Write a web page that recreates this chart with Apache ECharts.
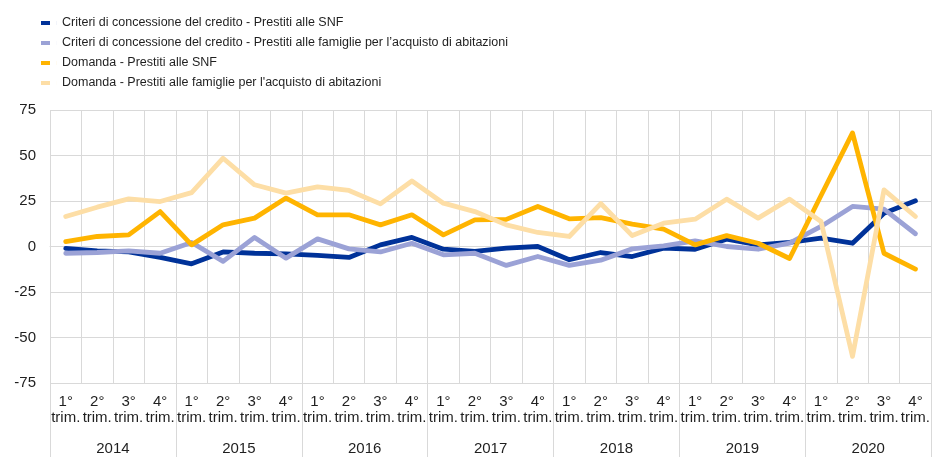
<!DOCTYPE html>
<html>
<head>
<meta charset="utf-8">
<script src="https://cdn.jsdelivr.net/npm/echarts@6/dist/echarts.min.js"></script>
<style>
  html, body { margin: 0; padding: 0; background: #fff; }
  #chart { width: 933px; height: 467px; }
</style>
</head>
<body>
<div id="chart"></div>
<script>
// quarters 2014Q1 .. 2020Q4
var years = ['2014', '2015', '2016', '2017', '2018', '2019', '2020']
var quarterLabels = ['1°\ntrim.', '2°\ntrim.', '3°\ntrim.', '4°\ntrim.']
var yTicks = { min: -75, max: 75, step: 25 }

var criteriSNF = [
  -1, -2.4, -3, -6, -9.5, -3, -3.7, -4,
  -4.9, -6, 0.9, 5, -1.5, -2.7, -0.9, 0,
  -7.3, -3.3, -5.5, -0.9, -1.5, 4, 0.9, 2.2,
  4.6, 1.8, 18.3, 25.1
]
var criteriFamiglie = [
  -3.7, -3.3, -2.4, -3.7, 2.2, -8.2, 5, -6.4,
  4.2, -1.3, -3, 1.8, -4.6, -3.7, -10.4, -5.5,
  -10.4, -7.5, -1.3, 0.4, 3.1, 0, -1.5, 1.8,
  11, 22, 20.5, 7
]
var domandaSNF = [
  2.7, 5.5, 6.4, 19.2, 0.9, 11.9, 15.6, 26.6,
  17.4, 17.4, 11.9, 17.4, 6.4, 14.6, 14.9, 22,
  15.2, 15.9, 12.3, 9.5, 0.9, 6, 1.8, -6.6,
  28, 62.4, -3.7, -12.4
]
var domandaFamiglie = [
  16.5, 21.6, 26.2, 24.7, 29.6, 48.5, 33.9, 29.3,
  32.8, 30.8, 23.4, 36, 23.8, 19.2, 11.9, 7.7,
  5.5, 23.6, 6, 12.8, 15, 26, 15.6, 26,
  13.7, -60.4, 31.1, 16.5
]

var categories = []
years.forEach(function () {
  quarterLabels.forEach(function (q) { categories.push(q) })
})

var gridColor = '#d9d9d9'
var textColor = '#1f1f1f'

function lineSeries(name, data, color) {
  return {
    name: name,
    type: 'line',
    data: data,
    symbol: 'none',
    lineStyle: { width: 4.8, color: color, cap: 'round', join: 'round' },
    itemStyle: { color: color }
  }
}

var chart = echarts.init(document.getElementById('chart'))
chart.setOption({
  animation: false,
  textStyle: { fontFamily: 'Liberation Sans, Arial, sans-serif' },
  legend: {
    orient: 'vertical',
    left: 36,
    top: 10,
    // short bar plus an invisible sliver to widen the gap before the text
    icon: 'path://M0,0H9V4H0ZM15.95,0H16V4H15.95Z',
    itemWidth: 16,
    itemHeight: 4,
    itemGap: 4,
    textStyle: { fontSize: 12.5, color: textColor, lineHeight: 16 }
  },
  grid: { left: 50, right: 0, top: 110, bottom: 84 },
  xAxis: [
    {
      type: 'category',
      data: categories,
      boundaryGap: true,
      axisLine: { show: true, lineStyle: { color: gridColor } },
      axisTick: { show: false },
      splitLine: { show: true, lineStyle: { color: gridColor, width: 1 } },
      axisLabel: {
        interval: 0,
        hideOverlap: false,
        margin: 11,
        fontSize: 15,
        lineHeight: 16,
        color: textColor
      }
    },
    {
      type: 'category',
      data: years,
      position: 'bottom',
      boundaryGap: true,
      axisLine: { show: false },
      axisTick: { show: true, length: 74, lineStyle: { color: gridColor } },
      splitLine: { show: false },
      axisLabel: { margin: 58, fontSize: 15, color: textColor }
    }
  ],
  yAxis: {
    type: 'value',
    min: yTicks.min,
    max: yTicks.max,
    interval: yTicks.step,
    axisLine: { show: false },
    axisTick: { show: false },
    splitLine: { show: true, lineStyle: { color: gridColor, width: 1 } },
    axisLabel: { fontSize: 15, margin: 14, color: textColor }
  },
  series: [
    lineSeries('Criteri di concessione del credito - Prestiti alle SNF', criteriSNF, '#003299'),
    lineSeries('Criteri di concessione del credito - Prestiti alle famiglie per l\u2019acquisto di abitazioni', criteriFamiglie, '#9ba2d6'),
    lineSeries('Domanda - Prestiti alle SNF', domandaSNF, '#ffb400'),
    lineSeries('Domanda - Prestiti alle famiglie per l\'acquisto di abitazioni', domandaFamiglie, '#fddea6')
  ]
})
</script>
</body>
</html>
